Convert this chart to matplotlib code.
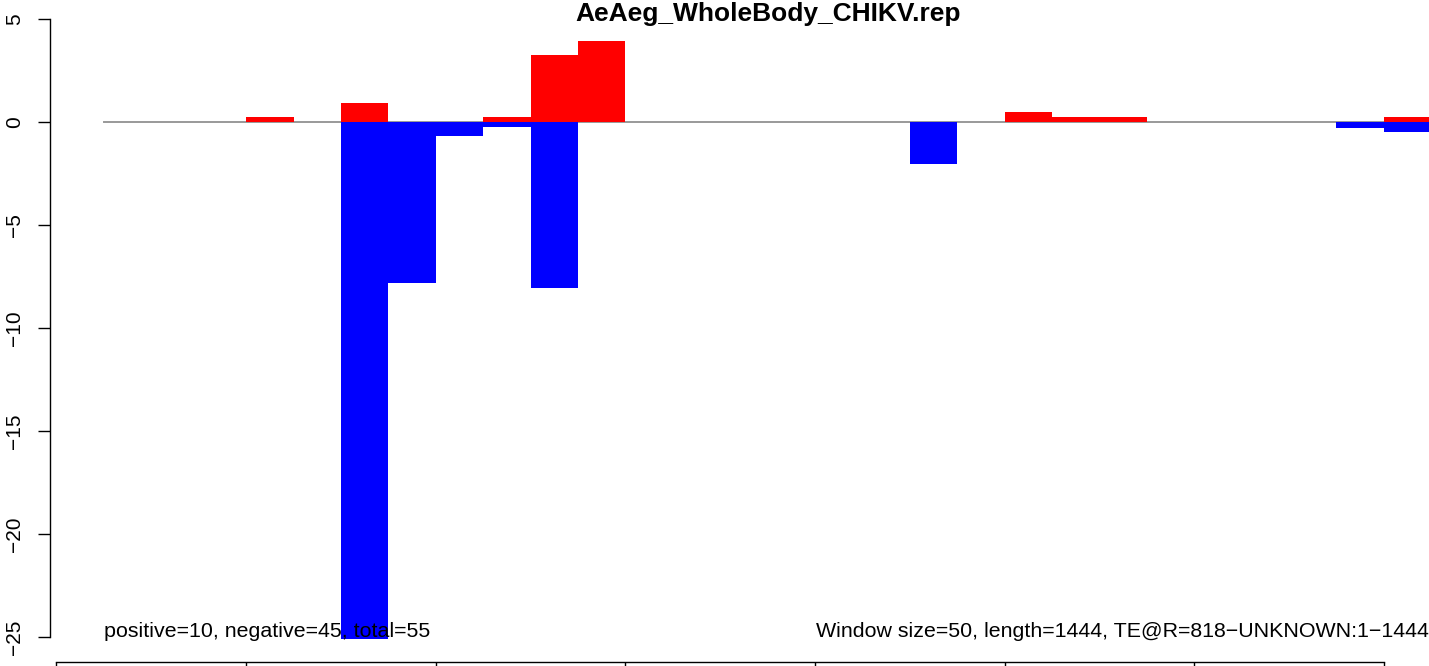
import matplotlib
matplotlib.use("Agg")
import matplotlib.pyplot as plt
import numpy as np

plt.rcParams['font.family'] = ['Liberation Sans', 'DejaVu Sans']

title = "AeAeg_WholeBody_CHIKV.rep"
window = 50
length = 1444
positive = [0, 0, 0, 0.24, 0, 0.91, 0, 0, 0.24, 3.25, 3.93, 0, 0, 0, 0,
            0, 0, 0, 0, 0.48, 0.24, 0.24, 0, 0, 0, 0, 0, 0.24, 0]
negative = [0, 0, 0, 0, 0, -25.1, -7.8, -0.68, -0.24, -8.04, 0, 0, 0, 0, 0,
            0, 0, -2.04, 0, 0, 0, 0, 0, 0, 0, 0, -0.27, -0.5, 0]
yticks = [-25, -20, -15, -10, -5, 0, 5]
xticks = [0, 200, 400, 600, 800, 1000, 1200, 1400]
left_text = "positive=10, negative=45, total=55"
right_text = "Window size=50, length=1444, TE@R=818\u2212UNKNOWN:1\u22121444"

W, H = 1429, 666
fig = plt.figure(figsize=(W / 100, H / 100), dpi=100)
ax = fig.add_axes([50 / W, (H - 662) / H, (W - 50) / W, 662 / H])

pxx = 0.948
ax.set_xlim((50 - 56.5) / pxx, (W - 56.5) / pxx)
pxy = 20.6
ax.set_ylim(-(662 - 122) / pxy, 122 / pxy)

lefts = window * (np.arange(len(positive)) + 1)
ax.plot([window, window + length], [0, 0], color='#999999', lw=1.4, zorder=1)
ax.bar(lefts, positive, width=window, align='edge', color='#FF0000', linewidth=0, zorder=2)
ax.bar(lefts, negative, width=window, align='edge', color='#0000FF', linewidth=0, zorder=2)

for s in ['top', 'right']:
    ax.spines[s].set_visible(False)
ax.spines['left'].set_bounds(-25, 5)
ax.spines['bottom'].set_bounds(0, 1400)
for s in ['left', 'bottom']:
    ax.spines[s].set_linewidth(1.0)

ax.set_yticks(yticks)
ax.set_yticklabels([str(v).replace('-', '\u2212') for v in yticks], rotation=90, va='center', fontsize=15)
ax.set_xticks(xticks)
ax.set_xticklabels([])
ax.tick_params(axis='both', direction='out', length=8.5, width=1.0)
ax.tick_params(axis='y', pad=10)

ax.text(window, -25, left_text, fontsize=15.4, ha='left', va='baseline', zorder=5)
ax.text(W / pxx - 56.5 / pxx, -25, right_text, fontsize=15.4, ha='right', va='baseline', zorder=5)

fig.text(768 / W, 1 - 21 / H, title, fontsize=19, fontweight='bold', ha='center', va='baseline')

fig.savefig("out.png", dpi=100)
